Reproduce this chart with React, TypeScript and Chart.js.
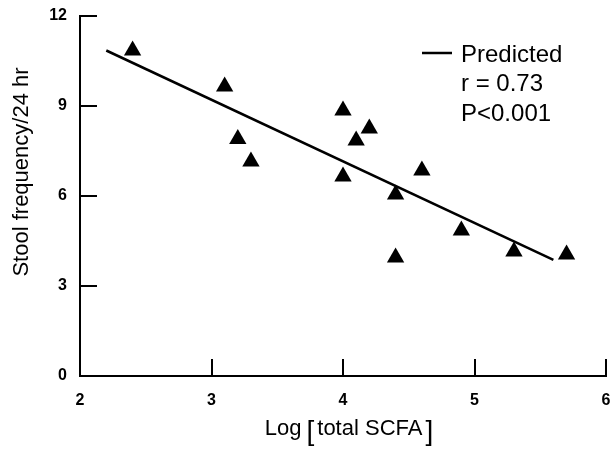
import React, { useEffect, useRef } from 'react';
import { Chart, registerables } from 'chart.js';

Chart.register(...registerables);

// ---- data ----
const logScfa = [2.4, 3.1, 3.2, 3.3, 4.0, 4.2, 4.1, 4.0, 4.6, 4.4, 4.9, 4.4, 5.3, 5.7];
const stoolFrequency = [10.85, 9.65, 7.9, 7.15, 8.85, 8.25, 7.85, 6.65, 6.85, 6.05, 4.85, 3.95, 4.15, 4.05];
const predictedX = [2.2, 5.6];
const predictedY = [10.85, 3.87];
const xTicks = [2, 3, 4, 5, 6];
const yTicks = [0, 3, 6, 9, 12];
const legendLabels = ['Predicted', 'r = 0.73', 'P<0.001'];
const xTitleParts = ['Log', '[', 'total SCFA', ']'];
const yTitle = 'Stool frequency/24 hr';

const FONT = '"Liberation Sans", Arial, Helvetica, sans-serif';

const textPlugin = {
  id: 'textPlugin',
  afterDraw(chart: any) {
    const ctx: CanvasRenderingContext2D = chart.ctx;
    const area = chart.chartArea;
    ctx.save();
    ctx.fillStyle = '#000';
    ctx.strokeStyle = '#000';

    // legend (line sample + statistics)
    ctx.lineWidth = 2.5;
    ctx.beginPath();
    ctx.moveTo(422, 53);
    ctx.lineTo(452, 53);
    ctx.stroke();
    ctx.font = `24px ${FONT}`;
    ctx.textAlign = 'left';
    ctx.textBaseline = 'alphabetic';
    legendLabels.forEach((t, i) => ctx.fillText(t, 461, 62 + i * 29.3));

    // x-axis title with tall brackets
    const mainFont = `22px ${FONT}`;
    const brFont = `28px ${FONT}`;
    const fonts = [mainFont, brFont, mainFont, brFont];
    const gaps = [5, 3, 3, 0];
    const widths = xTitleParts.map((p, i) => {
      ctx.font = fonts[i];
      return ctx.measureText(p).width;
    });
    const total = widths.reduce((a, b) => a + b, 0) + gaps.reduce((a, b) => a + b, 0);
    let x = (area.left + area.right) / 2 + 6 - total / 2;
    const baseline = 435;
    xTitleParts.forEach((p, i) => {
      ctx.font = fonts[i];
      ctx.fillText(p, x, i % 2 === 1 ? baseline + 5 : baseline);
      x += widths[i] + gaps[i];
    });

    // y-axis title
    ctx.font = `22px ${FONT}`;
    ctx.translate(28, 172);
    ctx.rotate(-Math.PI / 2);
    ctx.textAlign = 'center';
    ctx.fillText(yTitle, 0, 0);
    ctx.restore();
  },
};

export default function App() {
  const ref = useRef<HTMLCanvasElement | null>(null);

  useEffect(() => {
    document.body.style.margin = '0';
    const canvas = ref.current;
    if (!canvas) return;
    const chart = new Chart(canvas, {
      type: 'scatter',
      data: {
        datasets: [
          {
            label: 'Observed',
            data: logScfa.map((v, i) => ({ x: v, y: stoolFrequency[i] })),
            pointStyle: 'triangle',
            pointRadius: 10,
            pointHoverRadius: 10,
            backgroundColor: '#000',
            borderColor: '#000',
            borderWidth: 0,
            showLine: false,
          },
          {
            label: 'Predicted',
            data: predictedX.map((v, i) => ({ x: v, y: predictedY[i] })),
            showLine: true,
            pointRadius: 0,
            borderColor: '#000',
            borderWidth: 2.5,
            backgroundColor: '#000',
          },
        ],
      },
      options: {
        responsive: false,
        maintainAspectRatio: false,
        animation: false,
        layout: { padding: { top: 16, right: 3, left: 0, bottom: 0 } },
        plugins: {
          legend: { display: false },
          tooltip: { enabled: false },
          title: { display: false },
        },
        scales: {
          x: {
            type: 'linear',
            min: 2,
            max: 6,
            afterBuildTicks: (s: any) => {
              s.ticks = xTicks.map((v) => ({ value: v }));
            },
            afterFit: (s: any) => {
              s.height = 84;
              s.paddingRight = 0;
              s.paddingLeft = 0;
            },
            grid: {
              drawOnChartArea: false,
              drawTicks: true,
              tickLength: -17,
              color: '#000',
              lineWidth: 2,
            },
            border: { display: true, color: '#000', width: 2 },
            ticks: {
              padding: 32,
              color: '#000',
              font: { family: FONT, size: 16, weight: 'bold' },
              maxRotation: 0,
            },
          },
          y: {
            type: 'linear',
            min: 0,
            max: 12,
            afterBuildTicks: (s: any) => {
              s.ticks = yTicks.map((v) => ({ value: v }));
            },
            afterFit: (s: any) => {
              s.width = 80;
              s.paddingTop = 0;
              s.paddingBottom = 0;
            },
            grid: {
              drawOnChartArea: false,
              drawTicks: true,
              tickLength: -17,
              color: '#000',
              lineWidth: 2,
            },
            border: { display: true, color: '#000', width: 2 },
            ticks: {
              padding: 30,
              color: '#000',
              font: { family: FONT, size: 16, weight: 'bold' },
            },
          },
        },
      },
      plugins: [textPlugin],
    });
    return () => chart.destroy();
  }, []);

  return (
    <div style={{ width: 616, height: 460, background: '#fff' }}>
      <canvas ref={ref} width={616} height={460} />
    </div>
  );
}
